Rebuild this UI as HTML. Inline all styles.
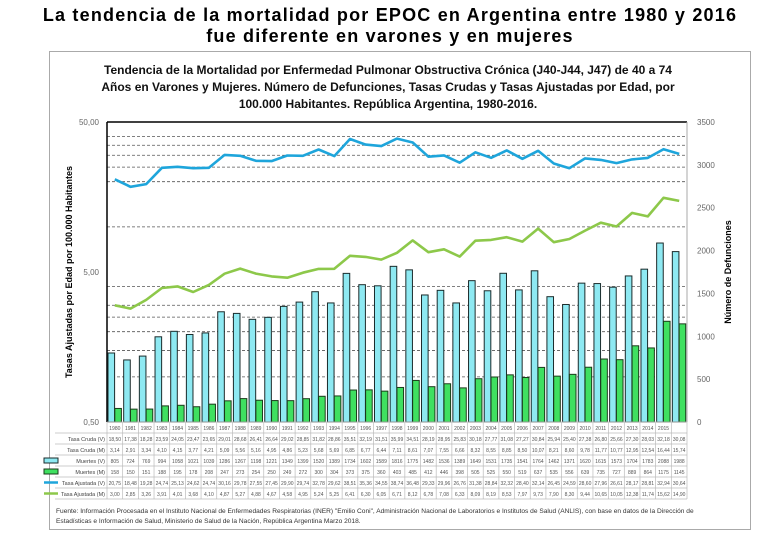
<!DOCTYPE html>
<html><head><meta charset="utf-8"><style>
body{margin:0;background:#fff;width:780px;height:540px;overflow:hidden;font-family:"Liberation Sans",sans-serif}
</style></head><body>
<svg id="c" width="780" height="540" xmlns="http://www.w3.org/2000/svg">
<text x="390" y="21" text-anchor="middle" font-size="18" font-weight="bold" font-family="Liberation Sans, sans-serif" letter-spacing="1.2">La tendencia de la mortalidad por EPOC en Argentina entre 1980 y 2016</text>
<text x="390" y="42" text-anchor="middle" font-size="18" font-weight="bold" font-family="Liberation Sans, sans-serif" letter-spacing="1.2">fue diferente en varones y en mujeres</text>
<rect x="49.5" y="51.5" width="701" height="478" fill="#fff" stroke="#aaa"/>
<g font-size="12" font-weight="bold" text-anchor="middle" fill="#111">
<text x="388" y="74">Tendencia de la Mortalidad por Enfermedad Pulmonar Obstructiva Crónica (J40-J44, J47) de 40 a 74</text>
<text x="388" y="91">Años en Varones y Mujeres. Número de Defunciones, Tasas Crudas y Tasas Ajustadas por Edad, por</text>
<text x="388" y="108">100.000 Habitantes. República Argentina, 1980-2016.</text>
</g>
<g id="g"></g>
</svg>
<script>
const years=[1980,1981,1982,1983,1984,1985,1986,1987,1988,1989,1990,1991,1992,1993,1994,1995,1996,1997,1998,1999,2000,2001,2002,2003,2004,2005,2006,2007,2008,2009,2010,2011,2012,2013,2014,2015,2016];
const muertesV=[805,724,769,994,1058,1021,1039,1286,1267,1198,1221,1349,1399,1520,1389,1734,1602,1589,1816,1775,1482,1536,1389,1649,1531,1735,1541,1764,1462,1371,1620,1615,1573,1704,1783,2088,1988];
const muertesM=[158,150,151,188,195,178,208,247,273,254,250,249,272,300,304,373,375,360,403,485,412,446,398,505,525,550,519,637,535,556,639,735,727,889,864,1175,1145];
const ajV=[20.75,18.48,19.28,24.74,25.13,24.62,24.74,30.16,29.78,27.55,27.45,29.90,29.74,32.78,29.62,38.51,35.36,34.55,38.74,36.48,29.33,29.96,26.76,31.38,28.84,32.32,28.40,32.14,26.45,24.59,28.60,27.96,26.61,28.17,28.81,32.94,30.64];
const ajM=[3.00,2.85,3.26,3.91,4.01,3.68,4.10,4.87,5.27,4.88,4.67,4.58,4.95,5.24,5.25,6.41,6.30,6.05,6.71,8.12,6.78,7.08,6.33,8.09,8.19,8.53,7.97,9.73,7.90,8.30,9.44,10.65,10.05,12.38,11.74,15.62,14.90];
const crudaV=[18.50,17.38,18.28,23.59,24.05,23.47,23.65,29.01,28.68,26.41,26.64,29.02,28.85,31.82,28.86,35.51,32.19,31.51,35.99,34.51,28.19,28.95,25.83,30.18,27.77,31.08,27.27,30.84,25.94,25.40,27.38,26.80,25.66,27.30,28.03,32.18,30.08];
const crudaM=[3.14,2.91,3.34,4.10,4.15,3.77,4.21,5.09,5.56,5.16,4.95,4.86,5.23,5.68,5.69,6.85,6.77,6.44,7.11,8.61,7.07,7.55,6.66,8.32,8.55,8.85,8.50,10.07,8.21,8.60,9.78,11.77,10.77,12.95,12.54,16.44,15.74];
const leftTicks=["50,00","5,00","0,50"];
const leftTickVals=[50,5,0.5];
const rightTicks=[0,500,1000,1500,2000,2500,3000,3500];
const gridVals=[40,35,30,25,20,10,4,3,2.5,2,1.5,1];
const rowLabels=["Tasa Cruda (V)","Tasa Cruda (M)","Muertes (V)","Muertes (M)","Tasa Ajustada (V)","Tasa Ajustada (M)"];

const X0=107,X1=687,Y0=122,Y1=422,N=years.length,GW=(X1-X0)/N;
const yL=v=>Y1-(Math.log10(v)-Math.log10(0.5))*150;
const yR=v=>Y1-v/3500*(Y1-Y0);
const gx=i=>X0+i*GW;
const g=document.getElementById('g');
const NS="http://www.w3.org/2000/svg";
function mk(t,a,txt){const e=document.createElementNS(NS,t);for(const k in a)e.setAttribute(k,a[k]);if(txt!==undefined)e.textContent=txt;g.appendChild(e);return e;}
const fmt=v=>v.toFixed(2).replace('.',',');

gridVals.forEach(v=>{const e=mk('line',{x1:X0,x2:X1,y1:yL(v),y2:yL(v),stroke:'#555','stroke-width':0.8,'stroke-dasharray':'3,2'});

});
let e=mk('line',{x1:X0,x2:X1,y1:Y0,y2:Y0,stroke:'#000','stroke-width':1.5});


e=mk('line',{x1:X0,x2:X0,y1:Y0,y2:Y1,stroke:'#000','stroke-width':1.5});


e=mk('line',{x1:X1,x2:X1,y1:Y0,y2:Y1,stroke:'#aaa','stroke-width':1});


leftTicks.forEach((t,i)=>{const e=mk('text',{x:X0-8,y:yL(leftTickVals[i])+3,'font-size':8,'text-anchor':'end',fill:'#666'},t);

});
rightTicks.forEach(v=>{const e=mk('text',{x:X1+10,y:yR(v)+3,'font-size':8,fill:'#666'},String(v));

});
e=mk('text',{x:0,y:0,'font-size':9,'font-weight':'bold','text-anchor':'middle',transform:'translate(72,272) rotate(-90)'},'Tasas Ajustadas por Edad por 100.000 Habitantes');


e=mk('text',{x:0,y:0,'font-size':9,'font-weight':'bold','text-anchor':'middle',transform:'translate(731,272) rotate(-90)'},'Número de Defunciones');



years.forEach((yr,i)=>{
 const b1=mk('rect',{x:gx(i)+1,y:yR(muertesV[i]),width:6.6,height:Y1-yR(muertesV[i]),fill:'#8ee9f2',stroke:'#1b2b2b','stroke-width':1});
 
 
 const b2=mk('rect',{x:gx(i)+7.8,y:yR(muertesM[i]),width:6.6,height:Y1-yR(muertesM[i]),fill:'#3fe060',stroke:'#1b3b1b','stroke-width':1});
 
 
});
const pts=arr=>arr.map((v,i)=>(gx(i)+GW/2).toFixed(1)+','+yL(v).toFixed(1)).join(' ');
e=mk('polyline',{points:pts(ajV),fill:'none',stroke:'#1ea5db','stroke-width':2.6,'stroke-linejoin':'round'});


e=mk('polyline',{points:pts(ajM),fill:'none',stroke:'#8dc84a','stroke-width':2.6,'stroke-linejoin':'round'});



const TY=[422,433,444,455,466,477,488,499];
const rows=[crudaV.map(fmt),crudaM.map(fmt),muertesV.map(String),muertesM.map(String),ajV.map(fmt),ajM.map(fmt)];
for(let r=0;r<TY.length;r++){const e=mk('line',{x1:r==0?X0:55,x2:X1,y1:TY[r],y2:TY[r],stroke:'#bbb','stroke-width':0.7});

}
for(let i=0;i<=N;i++){const e=mk('line',{x1:gx(i),x2:gx(i),y1:422,y2:499,stroke:'#bbb','stroke-width':0.7});

}
years.forEach((yr,i)=>{if(i<N-1){const e=mk('text',{x:gx(i)+GW/2,y:430,'font-size':5,'text-anchor':'middle',fill:'#555'},String(yr));

}});
rowLabels.forEach((l,r)=>{
 const e=mk('text',{x:105,y:TY[r+1]+8,'font-size':5.5,'text-anchor':'end',fill:'#444'},l);
 
 
 rows[r].forEach((v,i)=>{const t=mk('text',{x:gx(i)+GW/2,y:TY[r+1]+8,'font-size':5,'text-anchor':'middle',fill:'#555'},v);
 
 });
});
const sw=[['rect','#8ee9f2','#1b2b2b'],['rect','#3fe060','#1b3b1b'],['line','#1ea5db'],['line','#8dc84a']];
sw.forEach((s,k)=>{const yy=TY[3+k]+5.5;let e;
 if(s[0]=='rect'){e=mk('rect',{x:44,y:yy-2.5,width:14,height:5,fill:s[1],stroke:s[2],'stroke-width':1});}
 else{e=mk('line',{x1:44,x2:58,y1:yy,y2:yy,stroke:s[1],'stroke-width':2.5});}
 
 
});
e=mk('text',{x:56,y:513,'font-size':6.6,fill:'#333'},'Fuente: Información Procesada en el Instituto Nacional de Enfermedades Respiratorias (INER) "Emilio Coni", Administración Nacional de Laboratorios e Institutos de Salud (ANLIS), con base en datos de la Dirección de');


e=mk('text',{x:56,y:523,'font-size':6.6,fill:'#333'},'Estadísticas e Información de Salud, Ministerio de Salud de la Nación, República Argentina Marzo 2018.');


</script>
</body></html>
